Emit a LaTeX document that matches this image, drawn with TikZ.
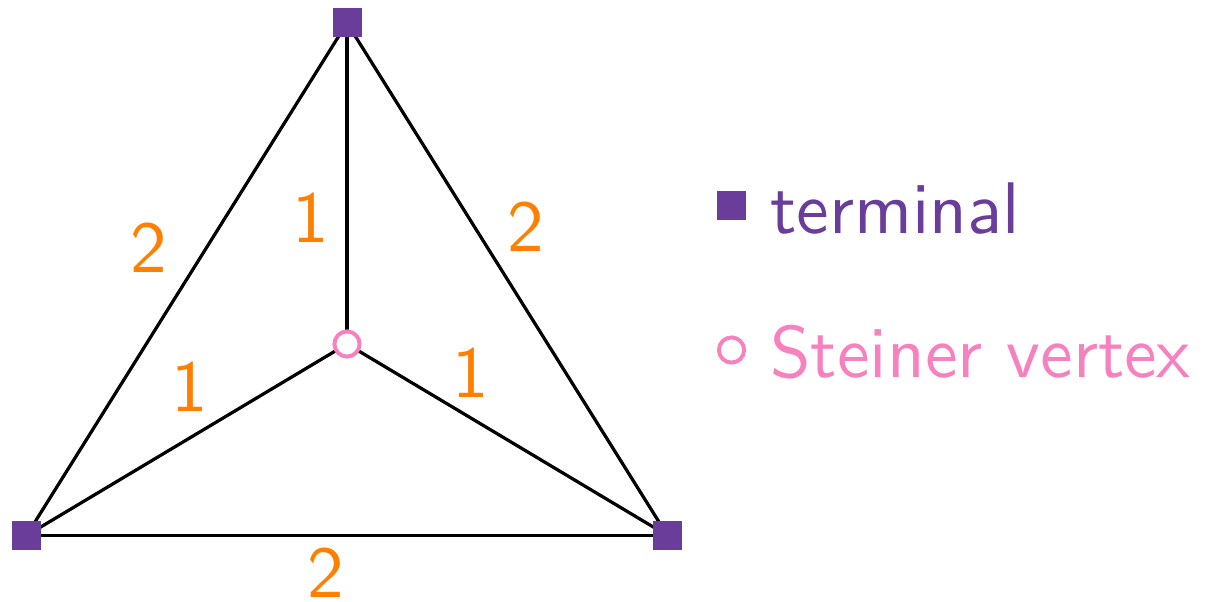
\documentclass[tikz,border=0pt]{standalone}
\usepackage{fontspec}
\newfontfamily\labelfont{lmsans10-regular.otf}
\definecolor{termcol}{HTML}{6A3D9A}
\definecolor{steinercol}{HTML}{F781BF}
\definecolor{weightcol}{HTML}{FF7F00}
\begin{document}
\begin{tikzpicture}[
  terminal/.style={rectangle, fill=termcol, minimum size=0.725cm, inner sep=0pt},
  steiner/.style={circle, draw=steinercol, fill=white, line width=2.8pt, minimum size=0.63cm, inner sep=0pt},
  edge/.style={line width=2.3pt, black},
  weight/.style={text=weightcol, inner sep=0pt},
  every node/.style={font=\labelfont\fontsize{52}{60}\selectfont}
]
  \useasboundingbox (0,0) rectangle (30.375,15.025);

  \node[terminal] (t1) at (8.675, 14.45) {};
  \node[terminal] (t2) at (0.6625, 1.6375) {};
  \node[terminal] (t3) at (16.6875, 1.6375) {};
  \coordinate (sc) at (8.675, 6.425);

  \draw[edge] (t1.center) -- (t2.center);
  \draw[edge] (t1.center) -- (t3.center);
  \draw[edge] (t2.center) -- (t3.center);
  \draw[edge] (t1.center) -- (sc);
  \draw[edge] (t2.center) -- (sc);
  \draw[edge] (t3.center) -- (sc);

  \node[terminal] at (t1) {};
  \node[terminal] at (t2) {};
  \node[terminal] at (t3) {};
  \node[steiner] (s) at (sc) {};

  % edge weights
  \node[weight] (w12) at (3.725, 8.825) {2};
  \node[weight] (w13) at (13.15, 9.35) {2};
  \node[weight] (w23) at (8.15, 0.7) {2};
  \node[weight] (w1s) at (7.775, 9.575) {1};
  \node[weight] (w2s) at (4.75, 5.35) {1};
  \node[weight] (w3s) at (11.775, 5.7) {1};

  % legend
  \node[terminal] (lt) at (18.2875, 9.8875) {};
  \node[anchor=base west, inner sep=0pt, text=termcol] (ltxt) at (19.25, 9.2) {terminal};
  \node[steiner] (ls) at (18.2875, 6.275) {};
  \node[anchor=base west, inner sep=0pt, text=steinercol] (lstxt) at (19.25, 5.6) {Steiner vertex};
\end{tikzpicture}
\end{document}
